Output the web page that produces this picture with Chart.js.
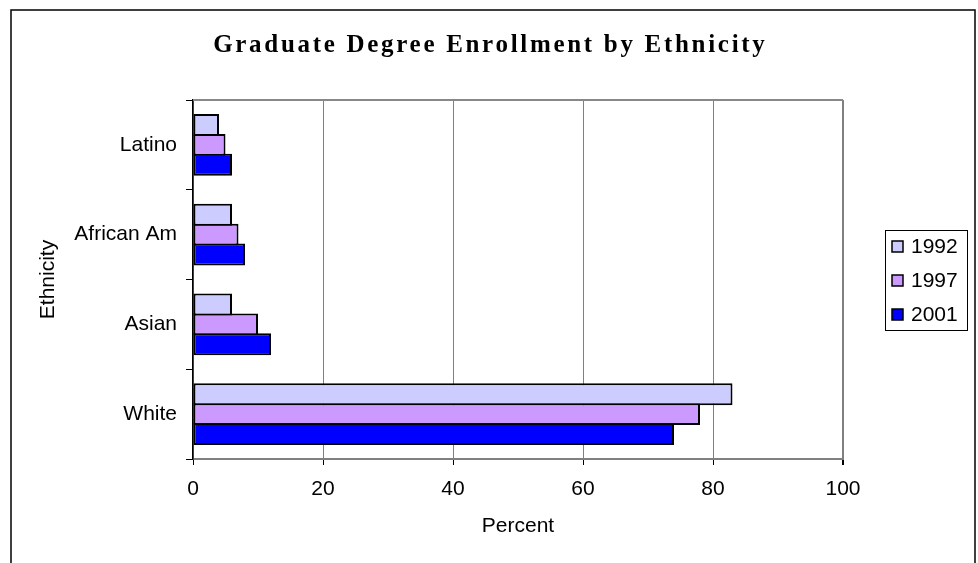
<!DOCTYPE html>
<html>
<head>
<meta charset="utf-8">
<title>Graduate Degree Enrollment by Ethnicity</title>
<script src="https://cdn.jsdelivr.net/npm/chart.js@4/dist/chart.umd.min.js"></script>
<style>
  html, body { margin: 0; padding: 0; background: #fff; }
  #wrap { width: 978px; height: 563px; }
</style>
</head>
<body>
<div id="wrap"><canvas id="chart" width="978" height="563"></canvas></div>
<script>
// Enrollment share (percent) by ethnicity, listed top to bottom
const categories = ['Latino', 'African Am', 'Asian', 'White'];
const years = ['1992', '1997', '2001'];
const values1992 = [4, 6, 6, 83];
const values1997 = [5, 7, 10, 78];
const values2001 = [6, 8, 12, 74];
const xTicks = [0, 20, 40, 60, 80, 100];

const chartTitle = 'Graduate Degree Enrollment by Ethnicity';
const seriesColors = ['#CCCCFF', '#CC99FF', '#0000FF'];
const sans = '"Liberation Sans", Arial, sans-serif';
const textSize = 21;

// Outer frame, white page and title
const framePlugin = {
  id: 'frame',
  beforeDraw(chart) {
    const ctx = chart.ctx;
    ctx.save();
    ctx.fillStyle = '#fff';
    ctx.fillRect(0, 0, chart.width, chart.height);
    ctx.strokeStyle = '#000';
    ctx.lineWidth = 1.5;
    ctx.strokeRect(11, 10, 964, chart.height + 20);
    ctx.restore();
  },
  afterDraw(chart) {
    const ctx = chart.ctx;
    ctx.save();
    ctx.font = 'bold 25px "Liberation Serif", "Times New Roman", serif';
    ctx.fillStyle = '#000';
    ctx.textBaseline = 'alphabetic';
    ctx.textAlign = 'left';
    const spacing = 2.7;
    if ('letterSpacing' in ctx) ctx.letterSpacing = spacing + 'px';
    const w = ctx.measureText(chartTitle).width - spacing;
    ctx.fillText(chartTitle, chart.width / 2 - w / 2, 52);
    ctx.restore();
  }
};

// Plot-area border on top, and the boxed legend
const plotBoxPlugin = {
  id: 'plotBox',
  afterDraw(chart) {
    const ctx = chart.ctx;
    const a = chart.chartArea;
    ctx.save();
    ctx.strokeStyle = '#888';
    ctx.lineWidth = 2;
    ctx.beginPath();
    ctx.moveTo(a.left, a.top);
    ctx.lineTo(a.right, a.top);
    ctx.stroke();

    // legend
    const boxLeft = a.right + 42.5;
    const boxW = 82;
    const rowH = 34;
    const boxH = 100;
    const midY = (a.top + a.bottom) / 2;
    const boxTop = Math.round(midY - boxH / 2) + 0.5;
    ctx.strokeStyle = '#000';
    ctx.lineWidth = 1;
    ctx.strokeRect(boxLeft, boxTop, boxW, boxH);
    ctx.font = textSize + 'px ' + sans;
    ctx.textBaseline = 'middle';
    ctx.textAlign = 'left';
    chart.data.datasets.forEach((ds, i) => {
      const cy = boxTop + boxH / 2 + (i - 1) * rowH;
      const sx = boxLeft + 6.5;
      ctx.fillStyle = ds.backgroundColor;
      ctx.fillRect(sx, cy - 5.5, 11, 11);
      ctx.lineWidth = 1.5;
      ctx.strokeStyle = '#000';
      ctx.strokeRect(sx, cy - 5.5, 11, 11);
      ctx.fillStyle = '#000';
      ctx.fillText(ds.label, sx + 19, cy + 1);
    });
    ctx.restore();
  }
};

const seriesValues = [values1992, values1997, values2001];

new Chart(document.getElementById('chart'), {
  type: 'bar',
  data: {
    labels: categories,
    datasets: years.map((y, i) => ({
      label: y,
      data: seriesValues[i],
      backgroundColor: seriesColors[i],
      borderColor: '#000',
      borderWidth: 2,
      borderSkipped: false,
      barPercentage: 1.1,
      categoryPercentage: 0.667
    }))
  },
  options: {
    indexAxis: 'y',
    responsive: false,
    animation: false,
    layout: { padding: { top: 100, right: 135, left: 0, bottom: 0 } },
    plugins: {
      legend: { display: false },
      title: { display: false },
      tooltip: { enabled: false }
    },
    scales: {
      x: {
        type: 'linear',
        min: 0,
        max: 100,
        afterFit(scale) { scale.height = 104; },
        afterBuildTicks(scale) { scale.ticks = xTicks.map(v => ({ value: v })); },
        grid: {
          color: '#808080',
          tickColor: '#000',
          tickLength: 6,
          lineWidth: ctx => (ctx.index === xTicks.length - 1 ? 2 : 1)
        },
        border: { color: '#808080', width: 2 },
        ticks: {
          color: '#000',
          font: { family: sans, size: textSize },
          padding: 12,
          maxRotation: 0
        },
        title: {
          display: true,
          text: 'Percent',
          color: '#000',
          font: { family: sans, size: textSize },
          padding: { top: 0, bottom: 24 }
        }
      },
      y: {
        type: 'category',
        offset: true,
        afterFit(scale) { scale.width = 193; },
        grid: {
          drawOnChartArea: false,
          offset: true,
          color: '#000',
          tickLength: 7,
          lineWidth: 1
        },
        border: { color: '#000', width: 1.5 },
        ticks: {
          color: '#000',
          font: { family: sans, size: textSize },
          padding: 9
        },
        title: {
          display: true,
          text: 'Ethnicity',
          color: '#000',
          font: { family: sans, size: textSize },
          padding: { top: 36, bottom: 0 }
        }
      }
    }
  },
  plugins: [framePlugin, plotBoxPlugin]
});
</script>
</body>
</html>
